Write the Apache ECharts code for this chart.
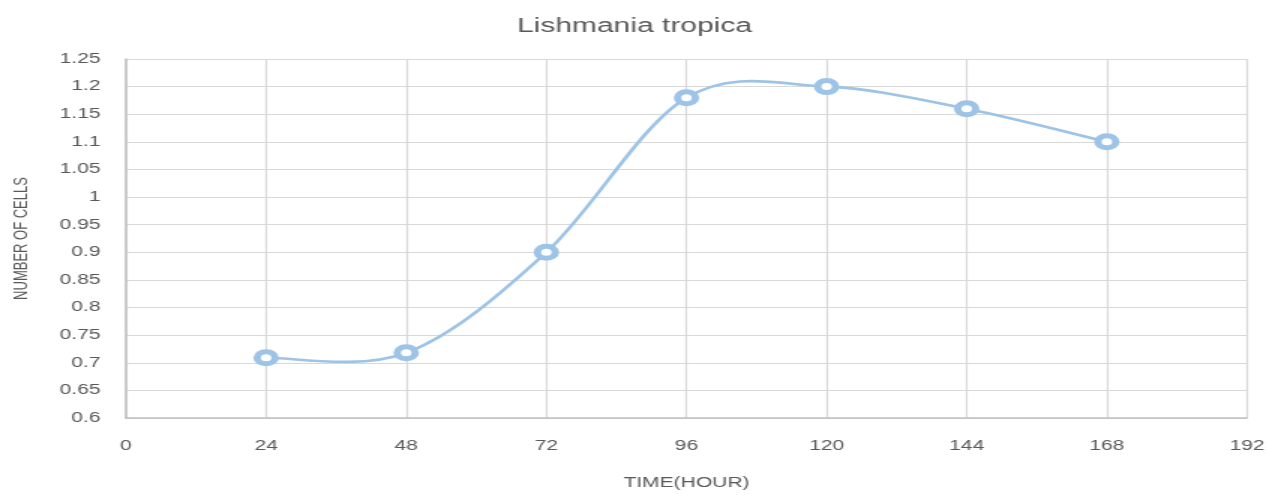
<!DOCTYPE html>
<html><head><meta charset="utf-8">
<script src="https://cdn.jsdelivr.net/npm/echarts@6/dist/echarts.min.js"></script>
<style>
html,body{margin:0;padding:0;background:#fff;overflow:hidden;width:1269px;height:495px}
#c{width:846px;height:495px;transform:scaleX(1.5);transform-origin:0 0}
</style>
</head><body><div id="c"></div>
<script>
const titleText = 'Lishmania tropica';
const xName = 'TIME(HOUR)';
const yName = 'NUMBER OF CELLS';
const hours = [24, 48, 72, 96, 120, 144, 168];
const cells = [0.709, 0.718, 0.90, 1.18, 1.20, 1.16, 1.10];

const pts = hours.map((h, i) => [h, cells[i]]);
const lineColor = '#9dc3e6';

function renderCurve(params, api) {
  if (params.dataIndex !== 0) return null;
  const p = pts.map(d => api.coord(d));
  const n = p.length;
  const children = [];
  for (let i = 0; i < n - 1; i++) {
    const p0 = p[Math.max(0, i - 1)], p1 = p[i], p2 = p[i + 1], p3 = p[Math.min(n - 1, i + 2)];
    children.push({
      type: 'bezierCurve',
      shape: {
        x1: p1[0], y1: p1[1], x2: p2[0], y2: p2[1],
        cpx1: p1[0] + (p2[0] - p0[0]) / 6, cpy1: p1[1] + (p2[1] - p0[1]) / 6,
        cpx2: p2[0] - (p3[0] - p1[0]) / 6, cpy2: p2[1] - (p3[1] - p1[1]) / 6
      },
      style: { stroke: lineColor, lineWidth: 2.6, fill: null }
    });
  }
  return { type: 'group', children };
}

const chart = echarts.init(document.getElementById('c'));
chart.setOption({
  animation: false,
  backgroundColor: '#fff',
  title: { text: titleText, left: 'center', top: 11,
    textStyle: { fontFamily: 'Liberation Sans', fontSize: 20, fontWeight: 'normal', color: '#595959' } },
  grid: { left: 83, right: 12, top: 59, bottom: 72, containLabel: false },
  xAxis: {
    type: 'value', min: 0, max: 192, interval: 24,
    name: xName, nameLocation: 'middle', nameGap: 58,
    nameTextStyle: { fontFamily: 'Liberation Sans', fontSize: 14, color: '#595959' },
    axisLine: { show: true, lineStyle: { color: '#bfbfbf', width: 1.5 } },
    axisTick: { show: false },
    axisLabel: { margin: 21, fontFamily: 'Liberation Sans', fontSize: 14, color: '#595959' },
    splitLine: { show: true, lineStyle: { color: '#d9d9d9', width: 1.2 } }
  },
  yAxis: {
    type: 'value', min: 0.6, max: 1.25, interval: 0.05,
    name: yName, nameLocation: 'middle', nameGap: 63, nameRotate: 90,
    nameTextStyle: { fontFamily: 'Liberation Sans', fontSize: 13, color: '#595959' },
    axisLine: { show: true, lineStyle: { color: '#bfbfbf', width: 1.5 } },
    axisTick: { show: false },
    axisLabel: { margin: 17, fontFamily: 'Liberation Sans', fontSize: 14, color: '#595959',
      formatter: v => String(parseFloat(v.toFixed(2))) },
    splitLine: { show: true, lineStyle: { color: '#d9d9d9', width: 1.2 } }
  },
  series: [{
    type: 'custom', renderItem: renderCurve, data: pts,
    encode: { x: 0, y: 1 }, z: 2, silent: true
  }, {
    type: 'scatter', data: pts, z: 3,
    symbol: 'circle', symbolSize: 12,
    itemStyle: { color: '#ffffff', borderColor: lineColor, borderWidth: 5, opacity: 1 }
  }]
});
</script></body></html>
